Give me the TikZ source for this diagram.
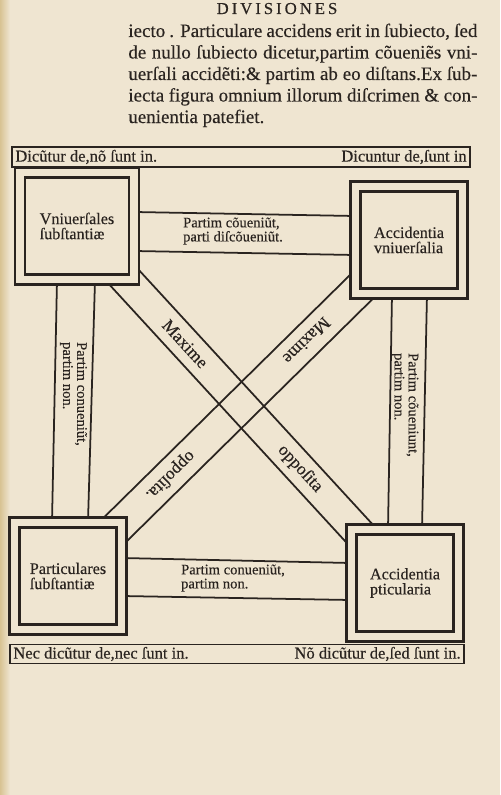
\documentclass[tikz,border=0pt]{standalone}
\usepackage{fontspec}
\setmainfont[FakeBold=0.35]{Liberation Serif}
\usetikzlibrary{calc,backgrounds}
\definecolor{paper}{HTML}{EFE5D1}
\definecolor{ink}{HTML}{2A2420}
\definecolor{edge}{HTML}{D8C393}

\begin{document}
\begin{tikzpicture}[x=0.2mm,y=-0.2mm,
  cell/.style={draw=ink,line width=1.2pt,double=paper,double distance=4.5pt,fill=paper,
    minimum width=21.4mm,minimum height=21.4mm,align=left,text=ink,font=\fontsize{9.2}{8.6}\selectfont},
  wire/.style={draw=ink,line width=1pt},
  lab/.style={text=ink,align=left,inner sep=0pt,font=\fontsize{8.3}{8}\selectfont},
  slant/.style={text=ink,inner sep=0pt,sloped,font=\fontsize{10}{10}\selectfont},
  frame/.style={draw=ink,line width=1.1pt,inner sep=0pt},
  side/.style={text=ink,inner sep=0.8mm,font=\fontsize{9.4}{10}\selectfont},
  body/.style={text=ink,inner sep=0pt,anchor=base west,font=\fontsize{10.8}{12}\selectfont}]
\useasboundingbox (0,0) rectangle (500,795);

\node[text=ink,anchor=base,font=\fontsize{9.5}{10}\selectfont\addfontfeature{LetterSpace=18}] (title) at (277,14) {DIVISIONES};
\node[body] (l1) at (128,37) {\makebox[69.8mm][s]{iecto . Particulare accidens erit in ſubiecto, ſed}};
\node[body] (l2) at (128,58.5) {\makebox[69.8mm][s]{de nullo ſubiecto dicetur,partim cõueniẽs vni-}};
\node[body] (l3) at (128,80) {\makebox[69.8mm][s]{uerſali accidẽti:\& partim ab eo diſtans.Ex ſub-}};
\node[body] (l4) at (128,101.5) {\makebox[69.8mm][s]{iecta figura omnium illorum diſcrimen \& con-}};
\node[body] (l5) at (128,123) {uenientia patefiet.};

\node[frame,minimum width=91.6mm,minimum height=4mm] (upper) at (241,157) {};
\node[side,anchor=west] (ul) at (upper.west) {Dicũtur de,nõ ſunt in.};
\node[side,anchor=east] (ur) at (upper.east) {Dicuntur de,ſunt in};

\node[cell,minimum width=22.8mm] (tl) at (77,226) {Vniuerſales\\ſubſtantiæ};
\node[cell] (tr) at (409,240) {Accidentia\\vniuerſalia};
\node[cell] (bl) at (68,576) {Particulares\\ſubſtantiæ};
\node[cell] (br) at (405,583) {Accidentia\\pticularia};

\node[frame,minimum width=90.8mm,minimum height=3.8mm] (lower) at (237,654) {};
\node[side,anchor=west] (ll) at (lower.west) {Nec dicũtur de,nec ſunt in.};
\node[side,anchor=east] (lr) at (lower.east) {Nõ dicũtur de,ſed ſunt in.};

\begin{pgfonlayer}{background}
\fill[paper] (0,0) rectangle (500,795);
\shade[left color=edge,right color=paper] (0,0) rectangle (10,795);
\draw[wire] (tl.east |- 0,212) -- (tr.west |- 0,216);
\draw[wire] (tl.east |- 0,251) -- (tr.west |- 0,255);
\draw[wire] (bl.east |- 0,558) -- (br.west |- 0,563);
\draw[wire] (bl.east |- 0,596) -- (br.west |- 0,600);
\draw[wire] (tl.south -| 57,0) -- (bl.north -| 52,0);
\draw[wire] (tl.south -| 95,0) -- (bl.north -| 88,0);
\draw[wire] (tr.south -| 392,0) -- (br.north -| 388,0);
\draw[wire] (tr.south -| 427,0) -- (br.north -| 422,0);
\draw[wire] ($(tl.center)!3.16mm!90:(br.center)$) -- ($(br.center)!3.16mm!-90:(tl.center)$);
\draw[wire] ($(tl.center)!3.16mm!-90:(br.center)$) -- ($(br.center)!3.16mm!90:(tl.center)$);
\draw[wire] ($(tr.center)!3.3mm!90:(bl.center)$) -- ($(bl.center)!3.3mm!-90:(tr.center)$);
\draw[wire] ($(tr.center)!3.3mm!-90:(bl.center)$) -- ($(bl.center)!3.3mm!90:(tr.center)$);
\end{pgfonlayer}

\node[lab] (top) at (233,231) {Partim cõueniũt,\\parti diſcõueniũt.};
\node[lab] (bottom) at (233,578) {Partim conueniũt,\\partim non.};
\node[lab,rotate=-90] (left) at (73.5,394) {Partim conueniũt,\\partim non.};
\node[lab,rotate=-90] (right) at (405,405) {Partim cõueniunt,\\partim non.};
\path (tl.center) -- node[slant,pos=.33] (m1) {Maxime} node[slant,pos=.68] (o1) {oppoſita} (br.center);
\path (tr.center) -- node[slant,allow upside down,pos=.30] (m2) {Maxime} node[slant,allow upside down,pos=.70] (o2) {oppoſita.} (bl.center);
\end{tikzpicture}
\end{document}
